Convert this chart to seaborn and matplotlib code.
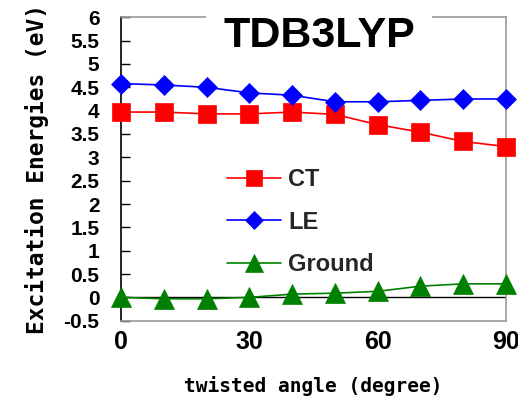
import matplotlib
matplotlib.use("Agg")
import matplotlib.pyplot as plt
import seaborn as sns
import pandas as pd

# twist angle scan (degrees) and state energies (eV)
angles = [0, 10, 20, 30, 40, 50, 60, 70, 80, 90]
ct_energy = [3.97, 3.97, 3.93, 3.93, 3.97, 3.92, 3.70, 3.54, 3.34, 3.23]
le_energy = [4.58, 4.55, 4.50, 4.38, 4.33, 4.19, 4.19, 4.22, 4.25, 4.25]
ground_energy = [0.00, -0.03, -0.03, 0.00, 0.07, 0.09, 0.13, 0.24, 0.29, 0.29]

series_names = ["CT", "LE", "Ground"]
series_values = [ct_energy, le_energy, ground_energy]
series_colors = ["#ff0000", "#0000ff", "#008000"]
series_markers = ["s", "D", "^"]
series_msize = [13.5, 10.5, 15]

y_ticks = [-0.5, 0, 0.5, 1, 1.5, 2, 2.5, 3, 3.5, 4, 4.5, 5, 5.5, 6]
y_ticklabels = ["-0.5", "0", "0.5", "1", "1.5", "2", "2.5", "3", "3.5",
                "4", "4.5", "5", "5.5", "6"]
x_ticks = [0, 30, 60, 90]

sns.set_theme(style="white")
plt.rcParams["font.family"] = ["Liberation Sans", "DejaVu Sans"]

fig = plt.figure(figsize=(5.18, 4.01), dpi=100)
ax = fig.add_axes([0.2336, 0.2002, 0.7432, 0.7567])

ax.axhline(0, color="black", lw=1.0, zorder=1)

for name, vals, col, mk, ms in zip(series_names, series_values, series_colors,
                                   series_markers, series_msize):
    df = pd.DataFrame({"angle": angles, "energy": vals})
    sns.lineplot(data=df, x="angle", y="energy", ax=ax, color=col, lw=1.2,
                 marker=mk, markersize=ms, markeredgecolor=col,
                 markeredgewidth=0.5, label=name, clip_on=False, zorder=3)

ax.set_xlim(0, 90)
ax.set_ylim(-0.5, 6)
ax.set_xticks(x_ticks)
ax.set_xticklabels([str(t) for t in x_ticks], fontweight="bold")
ax.set_yticks(y_ticks)
ax.set_yticklabels(y_ticklabels, fontweight="bold")

ax.tick_params(axis="y", direction="in", length=6.5, width=1.0, color="black",
               labelsize=15, pad=15.5, left=True, labelcolor="black")
ax.tick_params(axis="x", length=0, labelsize=18, pad=7, labelcolor="black")

for side in ["top", "right", "bottom"]:
    ax.spines[side].set_color("#999999")
    ax.spines[side].set_linewidth(1.2)
ax.spines["left"].set_color("black")
ax.spines["left"].set_linewidth(1.2)

ax.set_xlabel("twisted angle (degree)", family="DejaVu Sans Mono",
              fontweight="bold", fontsize=14, labelpad=15.5, color="black")
ax.set_ylabel("Excitation Energies (eV)", family="DejaVu Sans Mono",
              fontweight="bold", fontsize=16.5, labelpad=10.5, color="black")

ax.text(0.514, 0.902, "TDB3LYP", transform=ax.transAxes, ha="center",
        va="baseline", fontsize=31, fontweight="bold", color="black",
        zorder=10, clip_on=False,
        bbox=dict(boxstyle="square,pad=0.4", facecolor="white",
                  edgecolor="none"))

leg = ax.legend(loc="upper left", bbox_to_anchor=(0.275, 0.503),
                frameon=False, prop={"size": 17, "weight": "bold"},
                handlelength=2.3, handletextpad=0.3, labelspacing=0.83,
                borderpad=0, borderaxespad=0, markerscale=0.9)

fig.savefig("out.png", dpi=100)
